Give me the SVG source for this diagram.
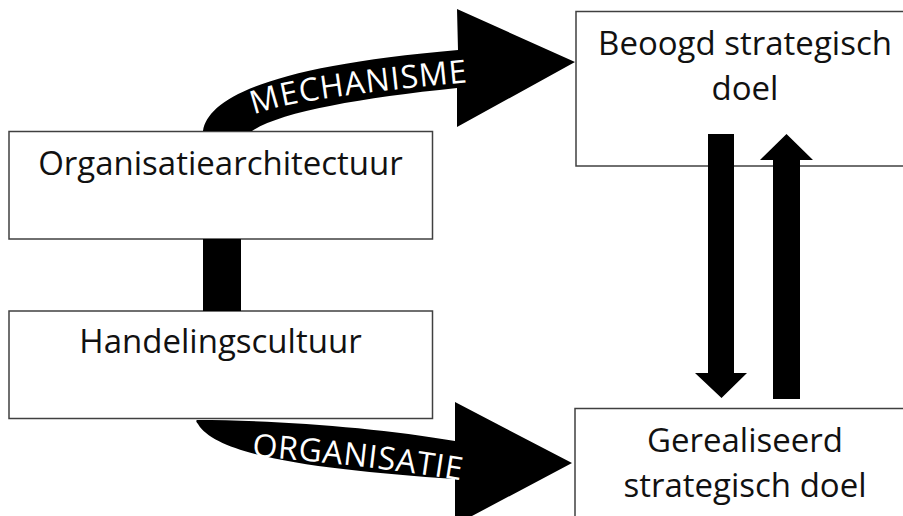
<svg xmlns="http://www.w3.org/2000/svg" width="903" height="516" viewBox="0 0 903 516">
  <style>
    .box { fill: #ffffff; stroke: #404040; stroke-width: 1.5; }
    .lbl { font-family: "Open Sans", "Noto Sans", sans-serif; font-size: 33px; fill: #111111; text-anchor: middle; }
    .arr { fill: #000000; stroke: none; }
    .alb { font-family: "Open Sans", "Noto Sans", sans-serif; font-size: 32px; fill: #ffffff; }
  </style>
  <defs>
    <path id="mechPath" d="M 251,116 C 282,103 342,94 480,81"/>
    <path id="orgPath" d="M 250,456 C 310,461 390,468 470,482"/>
  </defs>
  <rect width="903" height="516" fill="#ffffff"/>

  <g id="node-organisatiearchitectuur">
    <rect class="box" x="9" y="131.5" width="423.5" height="107.5"/>
    <text class="lbl" x="220.5" y="175">Organisatiearchitectuur</text>
  </g>
  <g id="node-handelingscultuur">
    <rect class="box" x="9" y="311" width="423.5" height="107.5"/>
    <text class="lbl" x="220.5" y="353">Handelingscultuur</text>
  </g>
  <g id="node-beoogd">
    <rect class="box" x="576" y="11.5" width="340" height="154.5"/>
    <text class="lbl" x="745" y="55">Beoogd strategisch</text>
    <text class="lbl" x="745" y="100">doel</text>
  </g>
  <g id="node-gerealiseerd">
    <rect class="box" x="575" y="408.5" width="340" height="120"/>
    <text class="lbl" x="745" y="452">Gerealiseerd</text>
    <text class="lbl" x="745" y="497">strategisch doel</text>
  </g>

  <g id="connectors">
    <rect class="arr" x="203" y="239" width="38" height="72"/>
    <path class="arr" d="M 203,131 C 208,98 270,66 458,50 L 457,9 L 575,62 L 457,127 L 457,88 C 360,98 280,112 252,131 Z"/>
    <text class="alb" letter-spacing="1"><textPath href="#mechPath" startOffset="3">MECHANISME</textPath></text>
    <path class="arr" d="M 197,420 C 280,420 380,428 455,441 L 455,402 L 572,463 L 455,525 L 455,479 C 330,470 218,458 198,424 Q 195,421 197,420 Z"/>
    <text class="alb" letter-spacing="0.7"><textPath href="#orgPath" startOffset="2">ORGANISATIE</textPath></text>
    <path class="arr" d="M 708,134 L 734,134 L 734,373 L 747,373 L 721.5,398 L 695,373 L 708,373 Z"/>
    <path class="arr" d="M 773,399 L 800,399 L 800,160 L 813,160 L 786.5,134 L 760,160 L 773,160 Z"/>
  </g>
</svg>
